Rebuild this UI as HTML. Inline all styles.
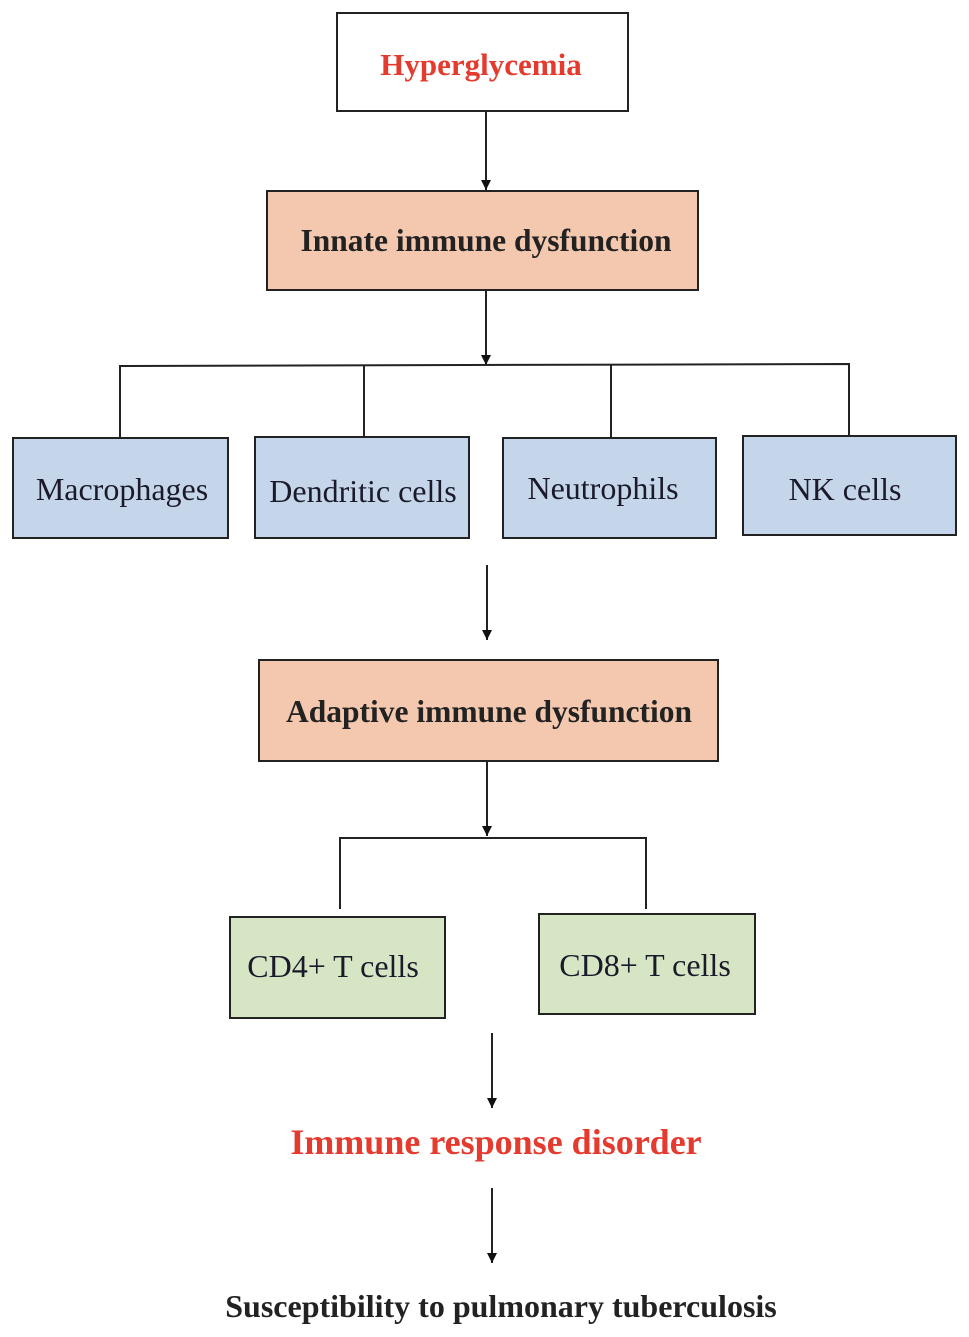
<!DOCTYPE html>
<html><head><style>body{margin:0;background:#fff}svg{display:block}</style></head>
<body>
<svg width="969" height="1337" viewBox="0 0 969 1337" xmlns="http://www.w3.org/2000/svg" font-family="Liberation Serif, serif">
<defs><marker id="a" markerWidth="10" markerHeight="10" refX="10" refY="5" orient="auto" markerUnits="userSpaceOnUse"><path d="M0,0 L10,5 L0,10 z" fill="#111"/></marker></defs>
<g stroke="#222" stroke-width="2" fill="none">
<rect x="337" y="13" width="291" height="98" fill="#fff"/>
<rect x="267" y="191" width="431" height="99" fill="#f4c8ae"/>
<rect x="13" y="438" width="215" height="100" fill="#c6d6ea"/>
<rect x="255" y="437" width="214" height="101" fill="#c6d6ea"/>
<rect x="503" y="438" width="213" height="100" fill="#c6d6ea"/>
<rect x="743" y="436" width="213" height="99" fill="#c6d6ea"/>
<rect x="259" y="660" width="459" height="101" fill="#f4c8ae"/>
<rect x="230" y="917" width="215" height="101" fill="#d6e5c4"/>
<rect x="539" y="914" width="216" height="100" fill="#d6e5c4"/>
<line x1="486" y1="111" x2="486" y2="190" marker-end="url(#a)"/>
<line x1="486" y1="290" x2="486" y2="365" marker-end="url(#a)"/>
<polyline points="120,438 120,366 849,364 849,435"/>
<line x1="364" y1="366" x2="364" y2="437"/>
<line x1="611" y1="365" x2="611" y2="438"/>
<line x1="487" y1="565" x2="487" y2="640" marker-end="url(#a)"/>
<line x1="487" y1="761" x2="487" y2="836" marker-end="url(#a)"/>
<polyline points="340,909 340,838 646,838 646,909"/>
<line x1="492" y1="1033" x2="492" y2="1108" marker-end="url(#a)"/>
<line x1="492" y1="1188" x2="492" y2="1263" marker-end="url(#a)"/>
</g>
<g text-anchor="middle" font-size="32" fill="#1a1a2a">
<text x="481" y="75" fill="#e53a2e" font-weight="bold" font-size="31">Hyperglycemia</text>
<text x="486" y="251" font-weight="bold" font-size="31.5" fill="#222">Innate immune dysfunction</text>
<text x="122" y="500">Macrophages</text>
<text x="363" y="502">Dendritic cells</text>
<text x="603" y="499">Neutrophils</text>
<text x="845" y="500">NK cells</text>
<text x="489" y="722" font-weight="bold" font-size="31.5" fill="#222">Adaptive immune dysfunction</text>
<text x="333" y="977">CD4+ T cells</text>
<text x="645" y="976">CD8+ T cells</text>
<text x="496" y="1154" fill="#e53a2e" font-weight="bold" font-size="36">Immune response disorder</text>
<text x="501" y="1317" font-weight="bold" font-size="32" fill="#222">Susceptibility to pulmonary tuberculosis</text>
</g>
</svg>
</body></html>
